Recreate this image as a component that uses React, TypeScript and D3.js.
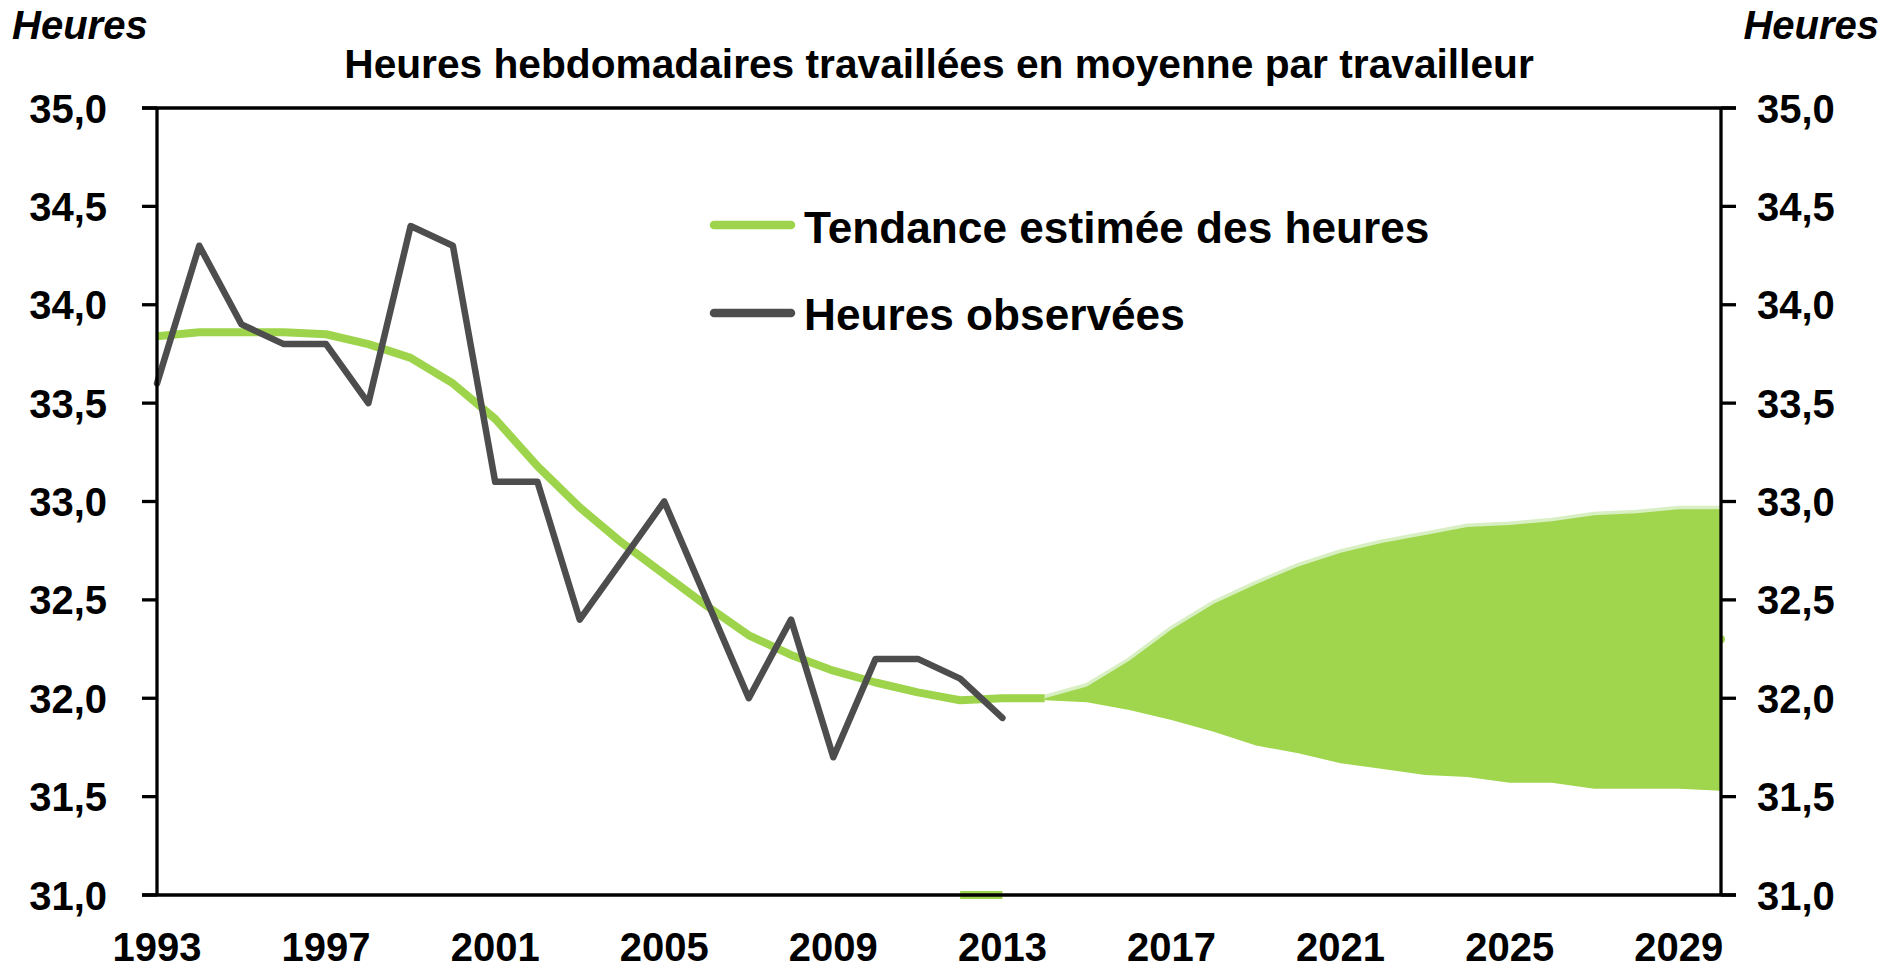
import React from "react";
import * as d3 from "d3";

const observedYears = [1993, 1994, 1995, 1996, 1997, 1998, 1999, 2000, 2001, 2002, 2003, 2004, 2005, 2006, 2007, 2008, 2009, 2010, 2011, 2012, 2013];
const observedValues = [33.6, 34.3, 33.9, 33.8, 33.8, 33.5, 34.4, 34.3, 33.1, 33.1, 32.4, 32.7, 33.0, 32.5, 32.0, 32.4, 31.7, 32.2, 32.2, 32.1, 31.9];

const trendYears = [1993, 1994, 1995, 1996, 1997, 1998, 1999, 2000, 2001, 2002, 2003, 2004, 2005, 2006, 2007, 2008, 2009, 2010, 2011, 2012, 2013, 2014];
const trendValues = [33.84, 33.86, 33.86, 33.86, 33.85, 33.80, 33.73, 33.60, 33.42, 33.18, 32.97, 32.79, 32.63, 32.47, 32.32, 32.22, 32.14, 32.08, 32.03, 31.99, 32.00, 32.00];

const fanYears = [2014, 2015, 2016, 2017, 2018, 2019, 2020, 2021, 2022, 2023, 2024, 2025, 2026, 2027, 2028, 2029, 2030];
const fanUpper = [32.00, 32.06, 32.19, 32.35, 32.48, 32.58, 32.67, 32.74, 32.79, 32.83, 32.87, 32.88, 32.90, 32.93, 32.94, 32.96, 32.96];
const fanLower = [31.99, 31.98, 31.94, 31.89, 31.83, 31.76, 31.72, 31.67, 31.64, 31.61, 31.60, 31.57, 31.57, 31.54, 31.54, 31.54, 31.53];

const strayYears = [2012, 2013];
const strayValues = [31.0, 31.0];
const dotYear = 2030;
const dotValue = 32.3;

const xTickYears = [1993, 1997, 2001, 2005, 2009, 2013, 2017, 2021, 2025, 2029];
const yTickValues = [31.0, 31.5, 32.0, 32.5, 33.0, 33.5, 34.0, 34.5, 35.0];

const title = "Heures hebdomadaires travaillées en moyenne par travailleur";
const unitLabel = "Heures";
const legendTrend = "Tendance estimée des heures";
const legendObserved = "Heures observées";

const GREEN = "#9ED44B";
const GREEN_FILL = "#A0D64D";
const GREEN_EDGE = "#D8EFC3";
const DARK = "#4D4D4D";
const FONT = "'Liberation Sans', Arial, sans-serif";

export default function App() {
  const W = 1904;
  const H = 969;
  const left = 157;
  const right = 1721;
  const top = 108;
  const bottom = 895;

  const x = d3.scaleLinear().domain([1993, 2030]).range([left, right]);
  const y = d3.scaleLinear().domain([31, 35]).range([bottom, top]);
  const fmt = (v: number) => d3.format(".1f")(v).replace(".", ",");

  const line = d3
    .line<[number, number]>()
    .x((d) => x(d[0]))
    .y((d) => y(d[1]));

  const trendPts = trendYears.map((yr, i) => [yr, trendValues[i]] as [number, number]);
  const obsPts = observedYears.map((yr, i) => [yr, observedValues[i]] as [number, number]);
  const upperPts = fanYears.map((yr, i) => [yr, fanUpper[i]] as [number, number]);
  const strayPts = strayYears.map((yr, i) => [yr, strayValues[i]] as [number, number]);

  const area = d3
    .area<number>()
    .x((_, i) => x(fanYears[i]))
    .y0((_, i) => y(fanLower[i]))
    .y1((_, i) => y(fanUpper[i]));

  const tick = 15;

  return (
    <div style={{ position: "absolute", left: 0, top: 0, width: W, height: H, overflow: "hidden", background: "#fff" }}>
      <svg width={W} height={H} style={{ display: "block" }} fontFamily={FONT}>
        <rect x={0} y={0} width={W} height={H} fill="#fff" />
        {/* Unit labels */}
        <text x={12} y={39} fontSize={40} fontWeight="bold" fontStyle="italic" fill="#000">{unitLabel}</text>
        <text x={1879} y={39} fontSize={40} fontWeight="bold" fontStyle="italic" textAnchor="end" fill="#000">{unitLabel}</text>
        {/* Title */}
        <text x={(left + right) / 2} y={78} fontSize={40.7} fontWeight="bold" textAnchor="middle" fill="#000">{title}</text>

        {/* Fan */}
        <path d={line(upperPts) || ""} fill="none" stroke={GREEN_EDGE} strokeWidth={5} transform="translate(0,-1)" />
        <path d={area(fanUpper) || ""} fill={GREEN_FILL} stroke="none" />

        {/* stray artefacts */}
        <path d={line(strayPts) || ""} fill="none" stroke={GREEN} strokeWidth={8} />
        <circle cx={x(dotYear)} cy={y(dotValue)} r={4} fill={GREEN} />

        {/* Trend */}
        <path d={line(trendPts) || ""} fill="none" stroke={GREEN} strokeWidth={8} strokeLinejoin="round" />
        {/* Observed */}
        <path d={line(obsPts) || ""} fill="none" stroke={DARK} strokeWidth={6.5} strokeLinejoin="round" strokeLinecap="round" />

        {/* Frame */}
        <line x1={left - tick} x2={right + tick} y1={top} y2={top} stroke="#000" strokeWidth={3.3} />
        <line x1={left - tick} x2={right + tick} y1={bottom} y2={bottom} stroke="#000" strokeWidth={3.3} />
        <line x1={left} x2={left} y1={top} y2={bottom} stroke="#000" strokeWidth={3.3} />
        <line x1={right} x2={right} y1={top} y2={bottom} stroke="#000" strokeWidth={3.3} />

        {/* Y ticks and labels */}
        {yTickValues.map((v) => (
          <g key={"y" + v}>
            <line x1={left - tick} x2={left} y1={y(v)} y2={y(v)} stroke="#000" strokeWidth={3.3} />
            <line x1={right} x2={right + tick} y1={y(v)} y2={y(v)} stroke="#000" strokeWidth={3.3} />
            <text x={107} y={y(v) + 14.5} fontSize={40} fontWeight="bold" textAnchor="end" fill="#000">{fmt(v)}</text>
            <text x={1757} y={y(v) + 14.5} fontSize={40} fontWeight="bold" textAnchor="start" fill="#000">{fmt(v)}</text>
          </g>
        ))}

        {/* X labels */}
        {xTickYears.map((yr) => (
          <text key={"x" + yr} x={x(yr)} y={961} fontSize={40} fontWeight="bold" textAnchor="middle" fill="#000">{yr}</text>
        ))}

        {/* Legend */}
        <line x1={714} x2={791} y1={225} y2={225} stroke={GREEN} strokeWidth={8.5} strokeLinecap="round" />
        <text x={804} y={243} fontSize={44.2} fontWeight="bold" fill="#000">{legendTrend}</text>
        <line x1={714} x2={791} y1={313} y2={313} stroke={DARK} strokeWidth={8.5} strokeLinecap="round" />
        <text x={804} y={330} fontSize={44.2} fontWeight="bold" fill="#000">{legendObserved}</text>
      </svg>
    </div>
  );
}
